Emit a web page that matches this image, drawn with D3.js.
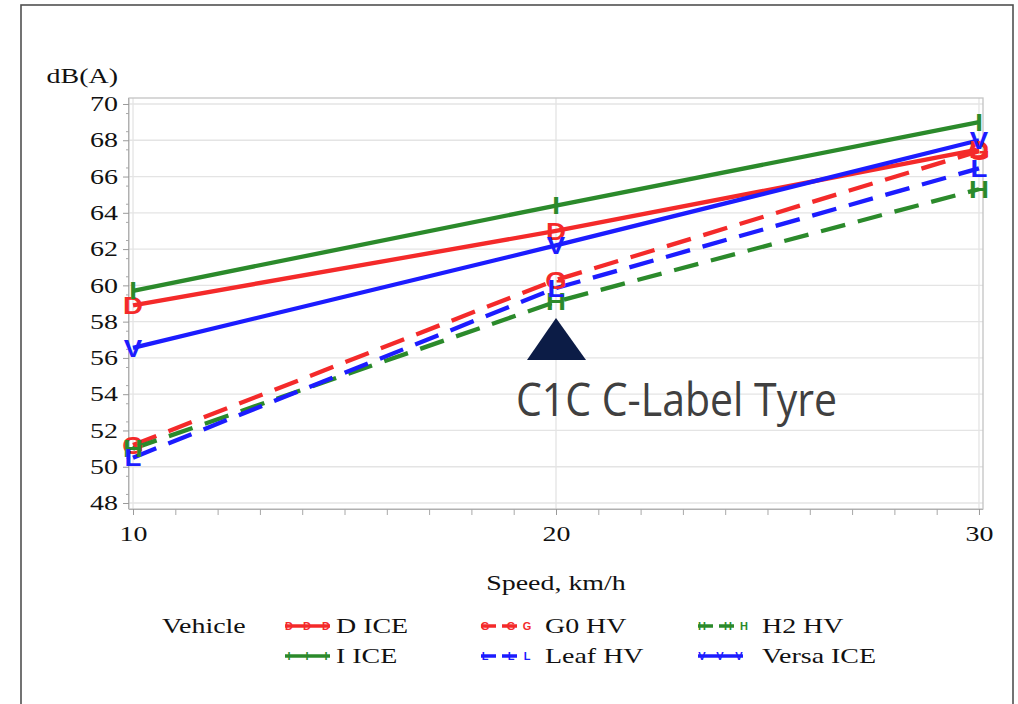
<!DOCTYPE html>
<html>
<head>
<meta charset="utf-8">
<script src="https://cdn.jsdelivr.net/npm/d3@7"></script>
<style>
  body { margin: 0; background: #fff; }
  svg { display: block; }
</style>
</head>
<body>
<div id="chart"></div>
<script>
// data
var speeds = [10, 20, 30];
var vehicles = ["D ICE", "G0 HV", "H2 HV", "I ICE", "Leaf HV", "Versa ICE"];
var dIce = [58.9, 63.0, 67.5];
var g0Hv = [51.2, 60.3, 67.4];
var h2Hv = [51.0, 59.1, 65.3];
var iIce = [59.7, 64.4, 69.0];
var leafHv = [50.5, 59.85, 66.45];
var versaIce = [56.55, 62.2, 68.0];
var yTickLabels = ["48", "50", "52", "54", "56", "58", "60", "62", "64", "66", "68", "70"];
var xTickLabels = ["10", "20", "30"];

var series = [dIce, g0Hv, h2Hv, iIce, leafHv, versaIce];
var markers = ["D", "G", "H", "I", "L", "V"];
var colors = ["#f42a2a", "#f42a2a", "#2b8a2b", "#2b8a2b", "#1c1cff", "#1c1cff"];
var dashed = [false, true, true, false, true, false];

var width = 1018, height = 704;
var serif = "'Liberation Serif', 'Times New Roman', serif";
var STRETCH = 1.33; // the picture is wider than tall, text comes out stretched

// widen text horizontally without moving its anchor
function stretch(sel, k) {
  sel.each(function () {
    var w = this.getComputedTextLength();
    d3.select(this).attr("textLength", w * k).attr("lengthAdjust", "spacingAndGlyphs");
  });
}

var svg = d3.select("#chart").append("svg")
  .attr("width", width)
  .attr("height", height);

// outer frame of the slide picture
svg.append("rect")
  .attr("x", 21).attr("y", 5)
  .attr("width", 992).attr("height", 720)
  .attr("fill", "none")
  .attr("stroke", "#505050")
  .attr("stroke-width", 1.6);

// plot box
var pLeft = 129, pRight = 983, pTop = 98, pBottom = 509;

var x = d3.scaleLinear().domain([9.905, 30.095]).range([pLeft, pRight]);
var y = d3.scaleLinear().domain([47.67, 70.33]).range([pBottom, pTop]);

var yMajor = yTickLabels.map(Number);
var xMajor = xTickLabels.map(Number);

// gridlines
svg.append("g").selectAll("line")
  .data(yMajor).enter().append("line")
    .attr("x1", pLeft).attr("x2", pRight)
    .attr("y1", d => y(d)).attr("y2", d => y(d))
    .attr("stroke", "#e4e4e4").attr("stroke-width", 1.3);

svg.append("g").selectAll("line")
  .data(xMajor).enter().append("line")
    .attr("y1", pTop).attr("y2", pBottom)
    .attr("x1", d => x(d)).attr("x2", d => x(d))
    .attr("stroke", "#e4e4e4").attr("stroke-width", 1.3);

svg.append("rect")
  .attr("x", pLeft).attr("y", pTop)
  .attr("width", pRight - pLeft).attr("height", pBottom - pTop)
  .attr("fill", "none")
  .attr("stroke", "#c4c4c4")
  .attr("stroke-width", 1.3);

// y axis: major + minor ticks
var yAxis = d3.axisLeft(y)
  .tickValues(yMajor)
  .tickFormat((d, i) => yTickLabels[i])
  .tickSize(6)
  .tickPadding(5);

var gy = svg.append("g").attr("transform", `translate(${pLeft},0)`).call(yAxis);
gy.selectAll(".tick line").attr("stroke", "#9a9a9a");
gy.select(".domain").attr("stroke", "#b0b0b0").attr("d", `M-0.5,${pTop}V${pBottom}`);

svg.append("g").attr("transform", `translate(${pLeft},0)`)
  .call(d3.axisLeft(y).tickValues(d3.range(48.5, 70, 1)).tickSize(3).tickFormat(""))
  .call(g => g.select(".domain").remove())
  .selectAll(".tick line").attr("stroke", "#a8a8a8");

gy.selectAll("text")
  .attr("font-family", serif)
  .attr("font-size", 21)
  .attr("fill", "#111")
  .call(stretch, STRETCH);

// x axis
var xAxis = d3.axisBottom(x)
  .tickValues(xMajor)
  .tickFormat((d, i) => xTickLabels[i])
  .tickSize(6)
  .tickPadding(11);

var gx = svg.append("g").attr("transform", `translate(0,${pBottom})`).call(xAxis);
gx.selectAll(".tick line").attr("stroke", "#9a9a9a");
gx.select(".domain").attr("stroke", "#b0b0b0").attr("d", `M${pLeft},0.5H${pRight}`);
gx.selectAll("text")
  .attr("font-family", serif)
  .attr("font-size", 21)
  .attr("fill", "#111")
  .call(stretch, STRETCH);

svg.append("g").attr("transform", `translate(0,${pBottom})`)
  .call(d3.axisBottom(x).tickValues(d3.range(11, 30, 1).filter(d => d !== 20)).tickSize(6).tickFormat(""))
  .call(g => g.select(".domain").remove())
  .selectAll(".tick line").attr("stroke", "#a8a8a8");

// axis titles
svg.append("text")
  .attr("x", 118).attr("y", 83)
  .attr("text-anchor", "end")
  .attr("font-family", serif).attr("font-size", 21).attr("fill", "#111")
  .text("dB(A)")
  .call(stretch, STRETCH);

svg.append("text")
  .attr("x", (x(10) + x(30)) / 2).attr("y", 590)
  .attr("text-anchor", "middle")
  .attr("font-family", serif).attr("font-size", 21).attr("fill", "#111")
  .text("Speed, km/h")
  .call(stretch, STRETCH);

// lines
var line = d3.line()
  .x((d, i) => x(speeds[i]))
  .y(d => y(d));

svg.append("g").selectAll("path")
  .data(series).enter().append("path")
    .attr("d", d => line(d))
    .attr("fill", "none")
    .attr("stroke", (d, i) => colors[i])
    .attr("stroke-width", 4.3)
    .attr("stroke-dasharray", (d, i) => dashed[i] ? "25,13" : null);

// letter markers
series.forEach(function (vals, s) {
  svg.append("g").selectAll("text")
    .data(vals).enter().append("text")
      .attr("x", (d, i) => x(speeds[i]))
      .attr("y", d => y(d))
      .attr("dy", "0.36em")
      .attr("text-anchor", "middle")
      .attr("font-family", "'Liberation Sans', Arial, sans-serif")
      .attr("font-weight", "bold")
      .attr("font-size", 24)
      .attr("fill", colors[s])
      .text(markers[s])
      .call(stretch, 1.15);
});

// annotation pasted on the slide
var ax = x(20);
svg.append("path")
  .attr("d", `M${ax},318L${ax + 30},360L${ax - 29},360Z`)
  .attr("fill", "#0c1c46");

svg.append("text")
  .attr("x", 516).attr("y", 416)
  .attr("font-family", "'Open Sans', 'Noto Sans', sans-serif")
  .attr("font-size", 45)
  .attr("fill", "#404040")
  .attr("textLength", 321)
  .attr("lengthAdjust", "spacingAndGlyphs")
  .text("C1C C-Label Tyre");

// legend
svg.append("text")
  .attr("x", 162).attr("y", 633)
  .attr("font-family", serif).attr("font-size", 21).attr("fill", "#111")
  .text("Vehicle")
  .call(stretch, STRETCH);

var colX = [285, 481, 698];
var rowY = [626, 656];

var items = svg.append("g").selectAll("g")
  .data(vehicles).enter().append("g")
    .attr("transform", (d, i) => `translate(${colX[i % 3]},${rowY[Math.floor(i / 3)]})`);

items.append("line")
  .attr("x1", 0).attr("x2", (d, i) => dashed[i] ? 36 : 45)
  .attr("y1", 0).attr("y2", 0)
  .attr("stroke", (d, i) => colors[i])
  .attr("stroke-width", 3.5)
  .attr("stroke-dasharray", (d, i) => dashed[i] ? "15,6" : null);

items.each(function (d, i) {
  var pos = dashed[i] ? [4, 30, 46] : [4, 22, 41];
  d3.select(this).selectAll("text.mk")
    .data(pos).enter().append("text")
      .attr("class", "mk")
      .attr("x", p => p).attr("y", 0)
      .attr("dy", "0.36em")
      .attr("text-anchor", "middle")
      .attr("font-family", "'Liberation Sans', Arial, sans-serif")
      .attr("font-weight", "bold")
      .attr("font-size", 11)
      .attr("fill", colors[i])
      .text(markers[i]);
});

items.append("text")
  .attr("x", (d, i) => i % 3 === 0 ? 51 : 64)
  .attr("y", 7)
  .attr("font-family", serif).attr("font-size", 21).attr("fill", "#111")
  .text(d => d)
  .call(stretch, STRETCH);
</script>
</body>
</html>
